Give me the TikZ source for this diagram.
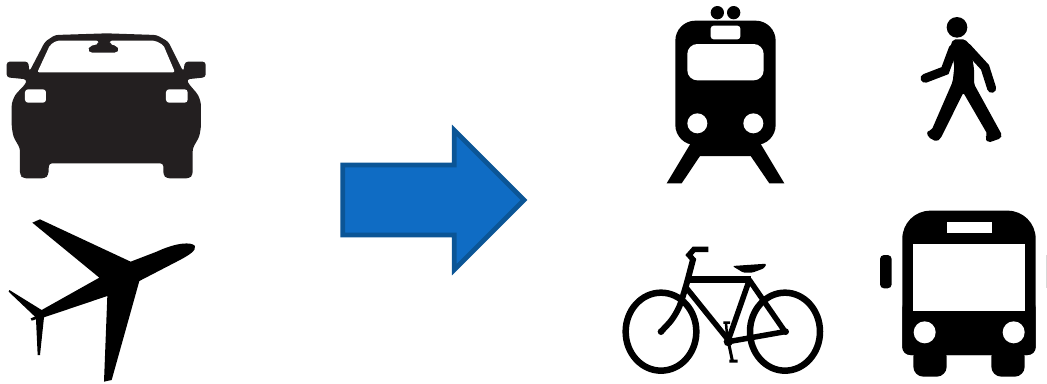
\documentclass[tikz,border=0pt]{standalone}
\usepackage{xcolor}
\definecolor{carblack}{HTML}{231F20}
\definecolor{arrowfill}{HTML}{0F6CC4}
\definecolor{arrowline}{HTML}{0B5596}
\usepackage{tikz}
\begin{document}
\begin{tikzpicture}[
    x=1pt, y=-1pt,
    solid/.style={fill=black},
    hole/.style={fill=white},
    bar/.style={draw=black, line cap=round, line join=round, line width=#1},
    bar/.default=5.5pt,
    zoomed/.style={shift={#1}, scale=1/3}
]
\useasboundingbox (0,0) rectangle (1047,383);

% car
\begin{scope}[zoomed={(0,20)}]
\fill[carblack, rounded corners=3pt] (70,475) -- (60,465) -- (60,385) -- (40,350) -- (35,320) -- (35,250)
    -- (45,225) -- (78,190) -- (80,178) -- (20,172) -- (20,125) -- (85,125) -- (88,155) -- (135,65)
    -- (165,45) -- (320,40) -- (470,45) -- (505,65) -- (550,155) -- (555,125) -- (617,125) -- (617,172)
    -- (560,178) -- (565,190) -- (595,225) -- (603,250) -- (603,320) -- (598,350) -- (578,385) -- (578,465)
    -- (568,475) -- (500,475) -- (490,465) -- (490,430) -- (147,430) -- (145,465) -- (135,475) -- cycle;
\fill[hole, rounded corners=2pt] (112,157) -- (150,75) -- (170,62) -- (295,62) -- (295,72) -- (270,78)
    -- (263,90) -- (270,98) -- (350,98) -- (358,90) -- (350,78) -- (330,72) -- (330,62) -- (465,62)
    -- (490,75) -- (525,157) -- cycle;
\fill[hole, rounded corners=3pt] (75,208) rectangle (138,248);
\fill[hole, rounded corners=3pt] (498,208) rectangle (563,248);
\end{scope}

% plane
\begin{scope}[zoomed={(0,210)}]
\fill[solid] (585,108) .. controls (575,95) and (530,97) .. (470,125) -- (392,155) -- (120,28) -- (97,38)
    -- (298,203) -- (125,300) -- (28,240) -- (26,245) -- (105,320) -- (92,325) -- (95,332) -- (108,328)
    -- (113,435) -- (120,435) -- (132,322) -- (322,258) -- (312,515) -- (335,510) -- (418,213) -- (530,155)
    .. controls (565,137) and (590,122) .. (585,108) -- cycle;
\end{scope}

% arrow
\begin{scope}[zoomed={(330,115)}]
\draw[line width=4.7pt, draw=arrowline, fill=arrowfill, miter limit=10]
    (38,150) -- (373,150) -- (373,46) -- (582,255) -- (373,464) -- (373,360) -- (38,360) -- cycle;
\end{scope}

% train
\begin{scope}[zoomed={(660,0)}]
\fill[solid] (95,425) -- (20,550) -- (65,550) -- (120,468) -- (272,468) -- (328,550) -- (373,550) -- (298,425) -- cycle;
\fill[solid, rounded corners=20pt] (46,62) rectangle (347,435);
\fill[solid] (172,38) circle[radius=20] (221,38) circle[radius=20];
\fill[hole, rounded corners=3pt] (152,77) rectangle (241,118);
\fill[hole, rounded corners=10pt] (82,132) rectangle (311,241);
\fill[hole] (112,370) circle[radius=30] (280,370) circle[radius=30];
\end{scope}

% walker
\begin{scope}[zoomed={(910,10)}]
\fill[solid] (141,52) circle[radius=31];
\fill[solid, rounded corners=2pt] (122,105) -- (130,88) -- (165,88) -- (180,105) -- (192,175) -- (192,222)
    -- (276,375) -- (272,385) -- (235,398) -- (225,385) -- (232,372) -- (160,248) -- (92,385) -- (80,395)
    -- (55,382) -- (50,365) -- (65,360) -- (128,215) -- (133,170) -- cycle;
\draw[bar=9pt, line join=miter] (130,115) -- (105,182) -- (45,205);
\draw[bar=9pt, line join=miter] (170,112) -- (225,172) -- (245,235);
\end{scope}

% bicycle
\begin{scope}[zoomed={(615,240)}]
\draw[bar=6.5pt] (138,275) ellipse[x radius=106, y radius=117];
\draw[bar=6.5pt] (510,275) ellipse[x radius=105, y radius=117];
\draw[bar=7pt, line cap=butt] (222,117) -- (408,117);
\draw[bar] (215,145) -- (340,300) -- (403,120) -- (510,275) -- (340,305);
\draw[bar=5.5pt, line cap=butt, line join=miter] (280,28) -- (237,28) -- (222,45) -- (237,62);
\draw[bar=6pt, line cap=butt, rounded corners=12pt] (235,55) -- (210,150) -- (185,225) -- (138,275);
\fill[solid, rounded corners=1.5pt] (352,78) -- (455,71) -- (447,85) -- (412,98) -- (385,98) -- cycle;
\draw[bar=2.5pt, line cap=butt] (337,300) -- (333,248) (325,248) -- (345,248);
\draw[bar=3pt, line cap=butt] (340,305) -- (352,362) (343,363) -- (368,363);
\fill[solid] (340,305) circle[radius=14] (138,275) circle[radius=10] (512,275) circle[radius=10];
\end{scope}

% bus
\begin{scope}[zoomed={(870,200)}]
\fill[solid, rounded corners=10pt] (130,440) rectangle (230,530);
\fill[solid, rounded corners=10pt] (364,440) rectangle (464,530);
\fill[solid, rounded corners=28pt] (97,465) -- (97,32) -- (497,32) -- (497,465) [rounded corners=8pt] -- (497,465) -- cycle;
\fill[solid, rounded corners=8pt] (97,300) rectangle (497,465);
\fill[hole] (230,65) rectangle (365,100);
\fill[hole] (130,132) rectangle (465,332);
\fill[hole] (164,397) circle[radius=33] (431,397) circle[radius=33];
\fill[solid, rounded corners=4pt] (65,165) -- (30,165) -- (30,265) -- (65,265) -- cycle;
\fill[black!15] (527,165) rectangle (531,265);
\end{scope}
\end{tikzpicture}
\end{document}
